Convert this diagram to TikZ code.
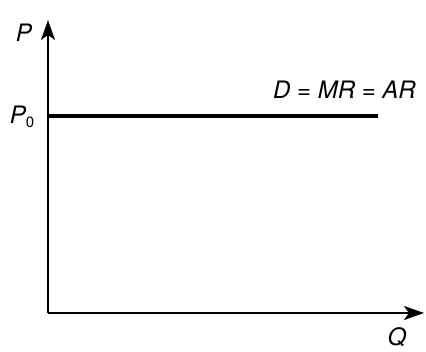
\documentclass[tikz,border=0pt]{standalone}
\usepackage{fontspec}
\setmainfont{TeX Gyre Heros}
\usetikzlibrary{arrows.meta}
\begin{document}
\begin{tikzpicture}[x=1pt,y=-1pt,
  axis/.style={line width=1.8pt,-{Stealth[length=20pt,width=14pt,inset=5pt]}},
  lbl/.style={inner sep=0pt,font=\fontsize{24}{28}\selectfont\itshape},
  curve/.style={line width=3.8pt}]
\useasboundingbox (0,0) rectangle (426,351);
\coordinate (O) at (48,313);
\coordinate (ytop) at (48,20);
\coordinate (xend) at (424,313);
\coordinate (c0) at (48,116);
\coordinate (c1) at (378,116);
\draw[axis] (O) -- (ytop);
\draw[axis] (O) -- (xend);
\draw[curve] (c0) -- (c1);
\node[lbl] (P) at (24,33) {P};
\node[lbl] (P0) at (22,117) {P\raisebox{-0.3ex}{\fontsize{15}{17}\selectfont\upshape 0}};
\node[lbl] (Q) at (397,337) {Q};
\node[lbl,anchor=east] (D) at (416,90) {D = MR = AR};
\end{tikzpicture}
\end{document}
